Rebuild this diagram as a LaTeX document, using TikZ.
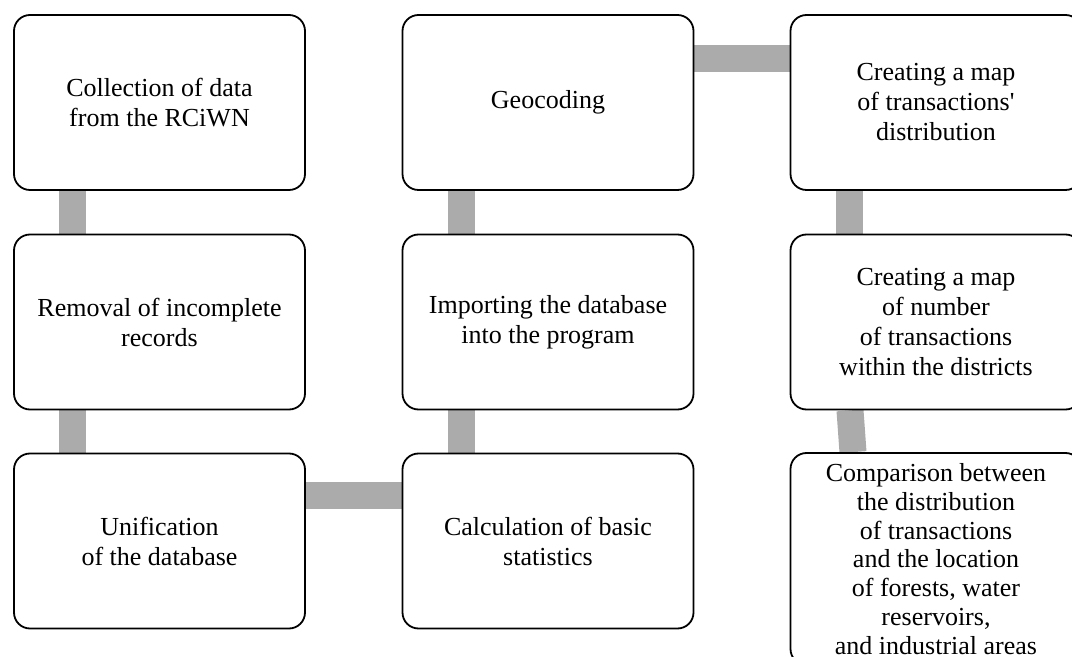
\documentclass[tikz,border=0pt]{standalone}
\usepackage{fontspec}
\setmainfont{Liberation Serif}
\usetikzlibrary{backgrounds}

\begin{document}
\begin{tikzpicture}[x=0.5pt,y=-0.5pt,
  stage/.style={draw,line width=0.9pt,rounded corners=8pt,fill=white,
    minimum width=145.5pt,minimum height=87.5pt,inner sep=0pt,align=center,
    font=\fontsize{13}{15}\selectfont},
  link/.style={line width=13.5pt,draw={rgb,255:red,171;green,171;blue,171}}]
  \useasboundingbox[clip] (0,0) rectangle (1072,657);
  % first column
  \node[stage] (collect) at (159.5,102.5) {Collection of data\\from the RCiWN};
  \node[stage] (removal) at (159.5,322) {Removal of incomplete\\records};
  \node[stage] (unify)   at (159.5,541) {Unification\\of the database};
  % second column
  \node[stage] (geocode)  at (548,102.5) {Geocoding};
  \node[stage] (importdb) at (548,322) {Importing the database\\into the program};
  \node[stage] (stats)    at (548,541) {Calculation of basic\\statistics};
  % third column
  \node[stage] (mapdist) at (936,102.5) {Creating a map\\of transactions{\textquotesingle}\\distribution};
  \node[stage] (mapnum)  at (936,322) {Creating a map\\of number\\of transactions\\within the districts};
  \node[stage,minimum height=106pt,font=\fontsize{13}{14.4}\selectfont] (compare) at (936,559) {Comparison between\\the distribution\\of transactions\\and the location\\of forests, water\\reservoirs,\\and industrial areas};
  % gray links behind the boxes
  \begin{pgfonlayer}{background}
    \foreach \a/\b in {collect/removal,removal/unify,stats/importdb,importdb/geocode,mapdist/mapnum}
      \draw[link] ([xshift=-43.5pt]\a.south) -- ([xshift=-43.5pt]\b.north);
    \draw[link] ([xshift=-43pt]mapnum.south) -- ([xshift=-41.5pt]compare.north);
    \draw[link] ([yshift=22.5pt]unify.east) -- ([yshift=22.5pt]stats.west);
    \draw[link] ([yshift=22pt]geocode.east) -- ([yshift=22pt]mapdist.west);
  \end{pgfonlayer}
\end{tikzpicture}
\end{document}
